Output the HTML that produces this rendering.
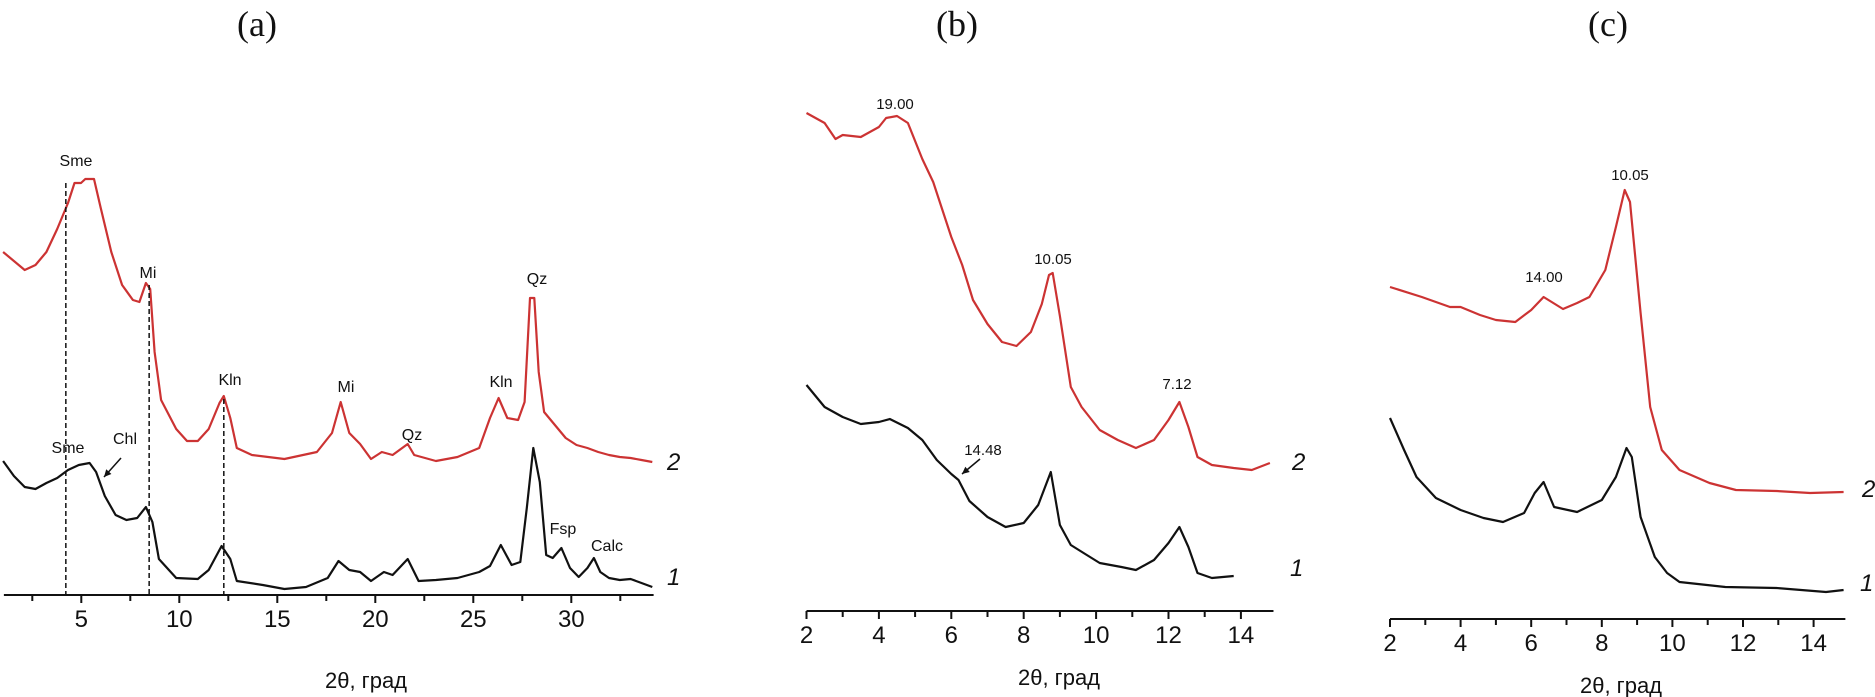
<!DOCTYPE html>
<html><head><meta charset="utf-8"><style>
html,body{margin:0;padding:0;background:#fff;}
svg{display:block;font-family:"Liberation Sans",sans-serif;}
</style></head><body>
<svg id="fig" width="1875" height="697" viewBox="0 0 1875 697" xmlns="http://www.w3.org/2000/svg"></svg>
<script>
// Panel (a) data
const aX=[2,3,3.5,4,4.5,5,5.3,5.6,5.8,6.2,6.5,7,7.5,8,8.3,8.6,8.8,9.0,9.3,10,10.5,11,11.5,12,12.2,12.5,12.8,13.5,15,16.5,17.2,17.6,18,18.5,19,19.5,20,20.7,21,22,23,24,24.5,24.9,25.3,25.8,26.1,26.35,26.55,26.75,27.0,27.5,28,28.5,29,29.5,30,30.5,31,31.5,32];
const aRed=[357,339,344,357,380,406,426,426,430,430,402,357,324,309,307,326,320,257,209,180,168,168,180,206,213,191,161,154,150,157,176,207,176,165,150,157,154,165,154,148,152,161,191,211,191,189,207,311,311,237,197,184,171,164,161,157,154,152,151,149,147];
const aBX=[2,2.5,3,3.5,4,4.5,5,5.5,6.0,6.3,6.7,7.2,7.7,8.2,8.6,8.9,9.2,10,11,11.5,12.1,12.5,12.8,14,15,16,17,17.5,18,18.5,19,19.6,20,20.7,21.2,22,23,24,24.5,25,25.5,25.9,26.2,26.5,26.8,27.1,27.4,27.8,28.2,28.6,29.0,29.3,29.6,30,30.5,31,31.5,32];
const aBlack=[148,133,122,120,126,131,139,144,146,137,113,94,89,91,102,87,50,31,30,39,63,50,28,24,20,22,31,48,39,37,28,37,34,50,28,29,31,37,43,64,44,47,101,161,127,54,51,61,41,32,41,51,37,31,29,30,26,22];
const aTicks=[5,10,15,20,25,30];
// Panel (b) data
const bRX=[2,2.5,2.8,3.0,3.5,4.0,4.2,4.5,4.8,5.2,5.5,6.0,6.3,6.6,7.0,7.4,7.8,8.2,8.5,8.7,8.8,9.0,9.3,9.6,10.1,10.6,11.1,11.6,12.0,12.3,12.55,12.8,13.2,13.8,14.3,14.8];
const bRed=[498,488,472,476,474,484,493,495,488,452,429,374,346,311,287,269,265,279,307,336,338,295,224,204,181,171,163,171,191,209,184,154,146,143,141,148];
const bBX=[2,2.5,3,3.5,4,4.3,4.8,5.2,5.6,6.0,6.2,6.5,7,7.5,8,8.4,8.75,9.0,9.3,9.7,10.1,10.7,11.1,11.6,12.0,12.3,12.55,12.8,13.2,13.8];
const bBlack=[226,204,194,187,189,192,183,171,151,137,131,110,94,84,88,106,139,86,66,57,48,44,41,51,68,84,64,38,33,35];
const bTicks=[2,4,6,8,10,12,14];
// Panel (c) data
const cRX=[2,2.9,3.7,4.0,4.55,5.0,5.55,6.0,6.35,6.9,7.3,7.65,8.1,8.4,8.65,8.8,9.1,9.37,9.7,10.2,11.05,11.8,12.95,13.9,14.85];
const cRed=[332,322,312,312,304,299,297,309,322,310,316,322,349,392,429,417,306,212,169,149,136,129,128,126,127];
const cBX=[2,2.4,2.75,3.3,4.0,4.65,5.2,5.8,6.1,6.35,6.65,7.3,8.0,8.4,8.7,8.85,9.1,9.5,9.85,10.2,11.5,12.95,14.35,14.85];
const cBlack=[201,169,142,121,109,101,97,106,126,137,112,107,119,142,171,162,102,62,46,37,32,31,27,29];
const cTicks=[2,4,6,8,10,12,14];

const NS="http://www.w3.org/2000/svg";
const svg=document.getElementById('fig');
function mk(tag,attrs,parent){const e=document.createElementNS(NS,tag);for(const k in attrs)e.setAttribute(k,attrs[k]);(parent||svg).appendChild(e);return e;}
function txt(s,x,y,size,opts,parent){const t=mk('text',Object.assign({x:x,y:y,'font-size':size,'text-anchor':'middle','fill':'#111'},opts||{}),parent);t.textContent=s;return t;}

const panels=[
 {id:'a',x0:2,px0:68-21.64*3,ppu:21.64,base:609,axisY:595,tx0:1.05,tx1:34.2,tpx0:81.3,tppu:19.6,tref:5,minor:2.5,ticks:aTicks,series:[[aX,aRed,'#cc3333'],[aBX,aBlack,'#111']],title:'(a)',tx:257,lab2:[667,470],lab1:[667,585],axisTitleX:366,axisTitleY:688},
 {id:'b',x0:2,px0:806.5,ppu:36.2,base:611,axisY:611,tx0:2,tx1:14.9,tpx0:806.5,tppu:36.2,tref:2,minor:1,ticks:bTicks,series:[[bRX,bRed,'#cc3333'],[bBX,bBlack,'#111']],title:'(b)',tx:957,lab2:[1292,470],lab1:[1290,576],axisTitleX:1059,axisTitleY:685},
 {id:'c',x0:2,px0:1390,ppu:35.3,base:619,axisY:619,tx0:2,tx1:14.9,tpx0:1390,tppu:35.3,tref:2,minor:1,ticks:cTicks,series:[[cRX,cRed,'#cc3333'],[cBX,cBlack,'#111']],title:'(c)',tx:1608,lab2:[1862,497],lab1:[1860,591],axisTitleX:1621,axisTitleY:693}
];
panels.forEach(p=>{
 const g=mk('g',{});
 
 
 const X=v=>p.px0+(v-p.x0)*p.ppu;
 const TX=v=>p.tpx0+(v-p.tref)*p.tppu;
 const Y=i=>p.base-i;
 const ax=mk('line',{x1:TX(p.tx0),x2:TX(p.tx1),y1:p.axisY,y2:p.axisY,stroke:'#111','stroke-width':2},g);
 
 
 const startMinor=Math.ceil(p.tx0/p.minor)*p.minor;
 for(let v=startMinor;v<=p.tx1+1e-6;v+=p.minor){
  const major=p.ticks.some(t=>Math.abs(t-v)<1e-6);
  const tk=mk('line',{x1:TX(v),x2:TX(v),y1:p.axisY,y2:p.axisY+(major?8:6),stroke:'#111','stroke-width':2},g);
  
  
 }
 p.ticks.forEach(t=>{
  const l=txt(String(t),TX(t),p.axisY+32,24,{},g);
  
  
 });
 const at=txt('2θ, град',p.axisTitleX,p.axisTitleY,22,{},g);
 
 
 const pt=txt(p.title,p.tx,36,36,{'font-family':'Liberation Serif, serif'},g);
 
 
 p.series.forEach((s,si)=>{
  const pts=s[0].map((v,k)=>X(v).toFixed(1)+','+Y(s[1][k]).toFixed(1)).join(' ');
  const pl=mk('polyline',{points:pts,fill:'none',stroke:s[2],'stroke-width':2.2,'stroke-linejoin':'round'},g);
  
  
 });
 const l2=txt('2',p.lab2[0],p.lab2[1],24,{'font-style':'italic','text-anchor':'start'},g);
 
 
 const l1=txt('1',p.lab1[0],p.lab1[1],24,{'font-style':'italic','text-anchor':'start'},g);
 
 
 p.X=X;
});

// Panel (a) dashed guides and annotations
const pa=panels[0];
const guideX=[4.9,8.75,12.2];
const guideTop=[183,285,399];
guideX.forEach((v,k)=>{
 const d=mk('line',{x1:pa.X(v),x2:pa.X(v),y1:guideTop[k],y2:pa.axisY,stroke:'#111','stroke-width':1.5,'stroke-dasharray':'5,3'});
 
 
});
const annots=[['Sme',76,166],['Mi',148,278],['Kln',230,385],['Mi',346,392],['Qz',412,440],['Kln',501,387],['Qz',537,284],['Sme',68,453],['Chl',125,444],['Fsp',563,534],['Calc',607,551],
 ['19.00',895,109],['10.05',1053,264],['7.12',1177,389],['14.48',983,455],['14.00',1544,282],['10.05',1630,180]];
annots.forEach(a=>{
 const t=txt(a[0],a[1],a[2],a[0].includes('.')?15:16,{});
 
 
});
const arrows=[[121,458,104,477],[980,459,962,474]];
arrows.forEach(a=>{
 const l=mk('line',{x1:a[0],y1:a[1],x2:a[2],y2:a[3],stroke:'#111','stroke-width':1.5});
 
 
 const ang=Math.atan2(a[3]-a[1],a[2]-a[0]);
 const h=8,w=0.45;
 const p1=[a[2]-h*Math.cos(ang-w),a[3]-h*Math.sin(ang-w)];
 const p2=[a[2]-h*Math.cos(ang+w),a[3]-h*Math.sin(ang+w)];
 const hd=mk('polygon',{points:a[2]+','+a[3]+' '+p1.join(',')+' '+p2.join(','),fill:'#111'});
 
 
});
</script>
</body></html>
